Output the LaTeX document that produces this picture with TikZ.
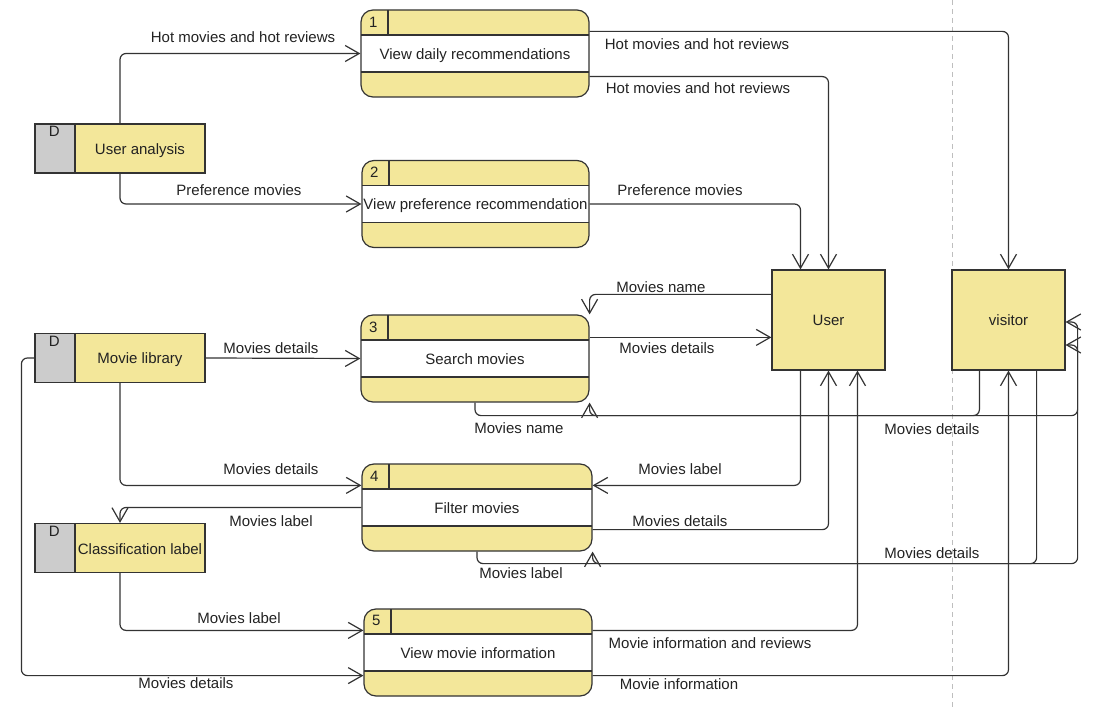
\documentclass[tikz,border=0pt]{standalone}
\usepackage{fontspec}
\setmainfont{Liberation Sans}
\usetikzlibrary{arrows.meta}
\definecolor{yel}{RGB}{243,231,154}
\definecolor{greyfill}{RGB}{204,204,204}
\definecolor{linec}{RGB}{51,51,51}
\definecolor{txt}{RGB}{34,34,34}
\definecolor{dashc}{RGB}{190,190,190}
\newcommand{\dfdfont}{\fontsize{15pt}{18pt}\selectfont}
\begin{document}
\begin{tikzpicture}[x=1pt,y=-1pt,
  every node/.style={font=\dfdfont, text=txt},
  lbl/.style={inner sep=0pt},
  boxtext/.style={inner sep=0pt, text height=12pt, text depth=0pt},
  proc/.style={draw=linec, line width=1.2pt, fill=yel, rounded corners=12pt,
    minimum width=#1, minimum height=87pt, inner sep=0pt, text height=12pt, text depth=0pt,
    path picture={
      \fill[white, sharp corners] ([yshift=-25pt]path picture bounding box.north west) rectangle ([yshift=25pt]path picture bounding box.south east);
      \draw[linec, line width=1.2pt, sharp corners] ([yshift=-25pt]path picture bounding box.north west) -- ([yshift=-25pt]path picture bounding box.north east);
      \draw[linec, line width=1.2pt, sharp corners] ([yshift=25pt]path picture bounding box.south west) -- ([yshift=25pt]path picture bounding box.south east);
      \draw[linec, line width=1.2pt, sharp corners] ([xshift=27pt]path picture bounding box.north west) -- ([xshift=27pt,yshift=-25pt]path picture bounding box.north west);
    }},
  store/.style={draw=linec, line width=1.2pt, fill=yel, minimum width=170pt, minimum height=49pt, inner sep=0pt,
    path picture={
      \fill[greyfill] (path picture bounding box.north west) rectangle ([xshift=40pt]path picture bounding box.south west);
      \draw[linec, line width=1.2pt] ([xshift=40pt]path picture bounding box.north west) -- ([xshift=40pt]path picture bounding box.south west);
    }},
  ent/.style={draw=linec, line width=1.2pt, fill=yel, minimum width=113pt, minimum height=100pt, inner sep=0pt, text height=12pt, text depth=0pt},
  arr/.style={draw=linec, line width=1.2pt, rounded corners=6pt, -{Straight Barb[length=14pt,width=16pt]}}
]
\useasboundingbox (0,0) rectangle (1093,711);
\draw[dashc, line width=0.8pt, dash pattern=on 5pt off 4pt] (952,0) -- (952,711);

% processes
\node[proc=228pt] (p1) at (475,53.5) {View daily recommendations};
\node[proc=227pt] (p2) at (475.5,204) {View preference recommendation};
\node[proc=228pt] (p3) at (475,358.5) {Search movies};
\node[proc=230pt] (p4) at (477,507.5) {Filter movies};
\node[proc=228pt] (p5) at (478,652.5) {View movie information};
\foreach \p/\n in {p1/1,p2/2,p3/3,p4/4,p5/5}{
  \node[lbl] (\p n) at ([xshift=13pt,yshift=-12.5pt]\p.north west) {\n};
}

% data stores
\node[store] (ua) at (120,148.5) {};
\node[store] (ml) at (120,358) {};
\node[store] (cl) at (120,548) {};
\foreach \s/\t in {ua/User analysis,ml/Movie library,cl/Classification label}{
  \node[boxtext] (\s t) at ([xshift=20pt]\s.center) {\t};
  \node[lbl] (\s d) at ([xshift=20pt,yshift=-8pt]\s.north west) {D};
}

% entities
\node[ent] (u) at (828.5,320) {User};
\node[ent] (vis) at (1008.5,320) {visitor};

% helper coordinates
\coordinate (p3o) at ([yshift=-23pt]p3.north east);
\coordinate (vb1) at ([xshift=28pt]vis.south west);
\coordinate (vb2) at ([xshift=-29pt]vis.south east);

% connectors
\draw[arr] (ua.north) |- (p1.west);
\draw[arr] (ua.south) |- (p2.west);
\draw[arr] ([yshift=-22pt]p1.north east) -| (vis.north);
\draw[arr] ([yshift=21pt]p1.south east) -| (u.north);
\draw[arr] (p2.east) -| ([xshift=-28pt]u.north);
\draw[arr] ([yshift=-25pt]u.north west) -| (p3.north east);
\draw[arr] (p3o) -- (p3o -| u.west);
\draw[arr] (vb1) |- ([yshift=-13pt]p3.south east) -- (p3.south east);
\draw[arr] (p3.south) -- ++(0,13) -| ([xshift=12pt,yshift=-2pt]vis.east) -- ([yshift=-2pt]vis.east);
\draw[arr] (vb2) |- ([yshift=-12pt]p4.south east) -- (p4.south east);
\draw[arr] (p4.south) -- ++(0,12) -| ([xshift=12pt,yshift=-25pt]vis.east) -- ([yshift=-25pt]vis.east);
\draw[arr] ([xshift=-28pt]u.south) |- ([yshift=-22pt]p4.north east);
\draw[arr] ([yshift=22pt]p4.south east) -| (u.south);
\draw[arr] (p4.west) -| (cl.north);
\draw[arr] (ml.east) -- (p3.west);
\draw[arr] (ml.south) |- ([yshift=-22pt]p4.north west);
\draw[arr] (cl.south) |- ([yshift=-22pt]p5.north west);
\draw[arr] (ml.west) -- ++(-13,0) |- ([yshift=21pt]p5.south west);
\draw[arr] ([yshift=-22pt]p5.north east) -| ([xshift=29pt]u.south);
\draw[arr] ([yshift=21pt]p5.south east) -| (vis.south);

% labels
\node[lbl] (l1) at (243,37) {Hot movies and hot reviews};
\node[lbl] (l2) at (239,190) {Preference movies};
\node[lbl] (l3) at (697,44) {Hot movies and hot reviews};
\node[lbl] (l4) at (698,88) {Hot movies and hot reviews};
\node[lbl] (l5) at (680,190) {Preference movies};
\node[lbl] (l6) at (661,287) {Movies name};
\node[lbl] (l7) at (667,348) {Movies details};
\node[lbl] (l8) at (519,428) {Movies name};
\node[lbl] (l9) at (932,429) {Movies details};
\node[lbl] (l10) at (271,348) {Movies details};
\node[lbl] (l11) at (271,469) {Movies details};
\node[lbl] (l12) at (680,469) {Movies label};
\node[lbl] (l13) at (271,521) {Movies label};
\node[lbl] (l14) at (680,521) {Movies details};
\node[lbl] (l15) at (521,573) {Movies label};
\node[lbl] (l16) at (932,553) {Movies details};
\node[lbl] (l17) at (239,618) {Movies label};
\node[lbl] (l18) at (710,643) {Movie information and reviews};
\node[lbl] (l19) at (186,683) {Movies details};
\node[lbl] (l20) at (679,684) {Movie information};
\end{tikzpicture}
\end{document}
